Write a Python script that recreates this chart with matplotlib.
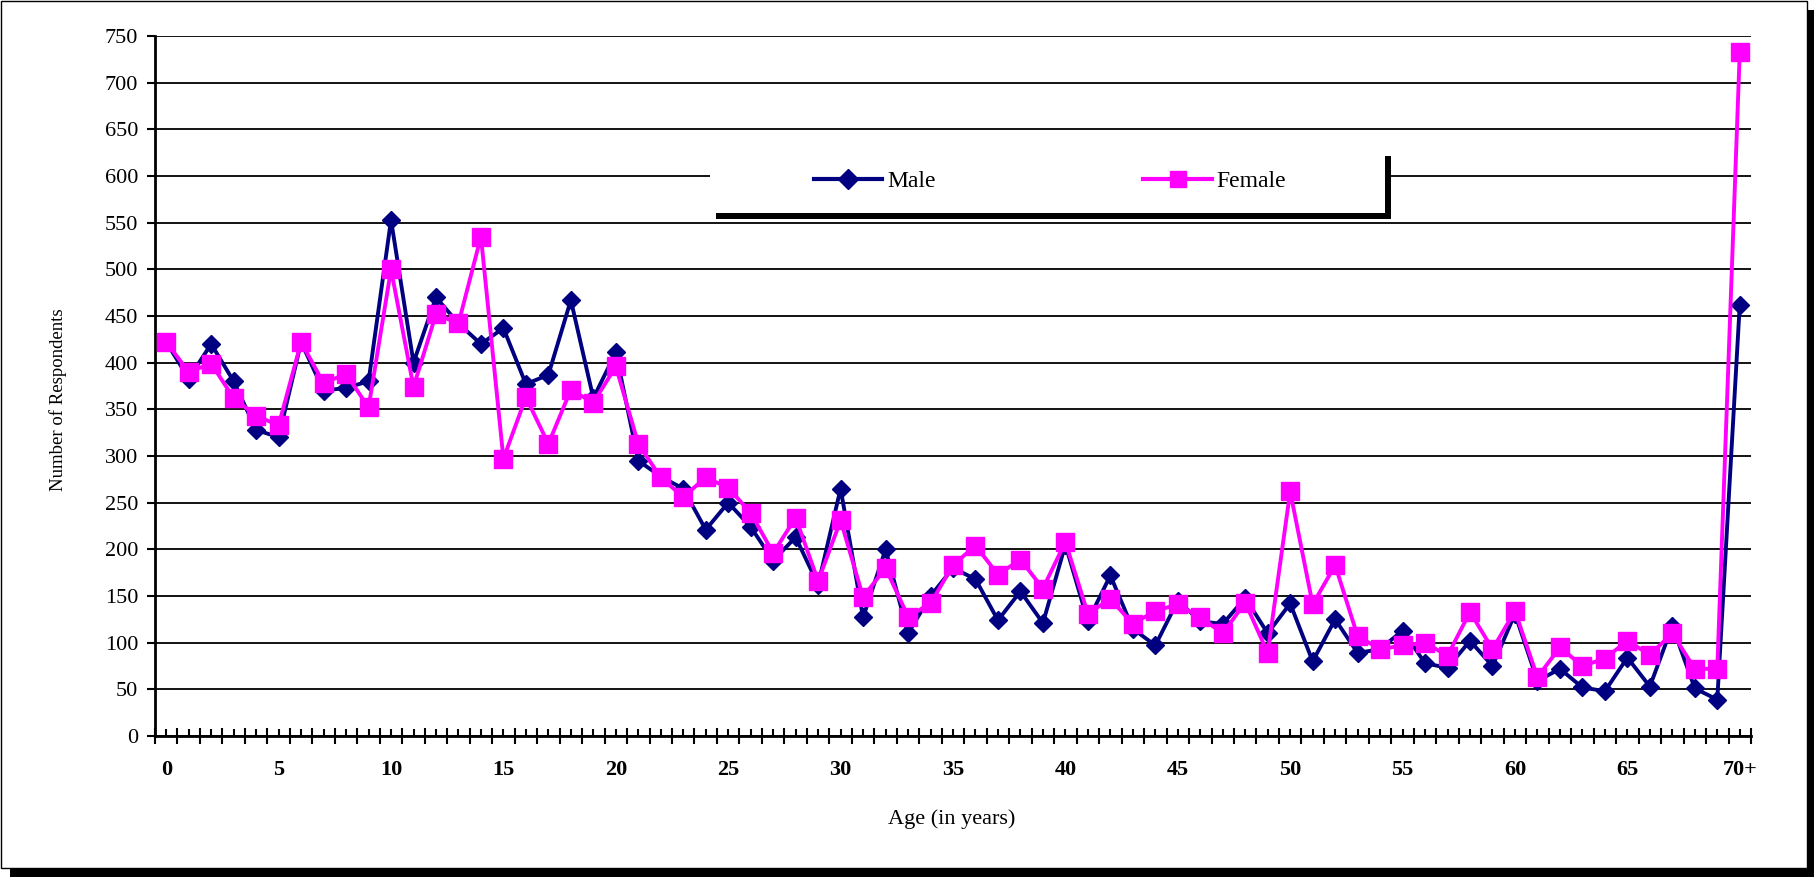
import matplotlib
matplotlib.use("Agg")
import matplotlib.pyplot as plt
from matplotlib.patches import Rectangle
from matplotlib.lines import Line2D

# ages 0..69 plus "70+"
ages = list(range(71))
age_labels = [str(a) if a % 5 == 0 else "" for a in range(70)] + ["70+"]

male = [422, 383, 420, 380, 328, 320, 422, 370, 373, 380,
        553, 400, 470, 442, 420, 437, 377, 387, 467, 362,
        411, 295, 278, 265, 221, 250, 224, 188, 213, 162,
        265, 127, 200, 110, 150, 180, 168, 124, 155, 121,
        205, 123, 172, 115, 97, 145, 123, 120, 148, 110,
        142, 80, 125, 89, 93, 113, 78, 73, 102, 75,
        131, 59, 72, 52, 48, 84, 53, 118, 51, 39,
        462]

female = [422, 390, 399, 362, 343, 333, 422, 378, 388, 352,
          500, 374, 452, 442, 535, 297, 363, 313, 371, 357,
          396, 313, 277, 256, 277, 266, 239, 196, 234, 166,
          231, 149, 180, 128, 142, 183, 204, 173, 189, 158,
          208, 131, 147, 120, 134, 141, 127, 110, 143, 89,
          262, 141, 183, 107, 93, 97, 100, 86, 133, 93,
          134, 63, 95, 75, 83, 102, 87, 110, 72, 72,
          733]

y_ticks = list(range(0, 751, 50))

W, H = 1814, 877
plt.rcParams["font.family"] = ["Liberation Serif", "DejaVu Serif"]

fig = plt.figure(figsize=(W / 100, H / 100), dpi=100)


def px(x0, y0, x1, y1):
    """pixel box (top-left origin) -> figure fraction rect"""
    return (x0 / W, 1 - y1 / H), (x1 - x0) / W, (y1 - y0) / H


# outer frame with drop shadow
xy, w, h = px(10, 10, 1830, 890)
fig.patches.append(Rectangle(xy, w, h, transform=fig.transFigure,
                             facecolor="black", edgecolor="none", zorder=-2))
xy, w, h = px(1, 1, 1807, 868)
fig.patches.append(Rectangle(xy, w, h, transform=fig.transFigure,
                             facecolor="white", edgecolor="black", lw=1, zorder=-1))

ax = fig.add_axes([155 / W, 1 - 736 / H, (1751 - 155) / W, 700 / H])
ax.set_facecolor("none")

ax.plot(ages, male, color="#000080", lw=2.8, marker="D", markersize=9.5,
        markeredgecolor="#000080", zorder=3)
ax.plot(ages, female, color="#FF00FF", lw=2.8, marker="s", markersize=12.5,
        markeredgecolor="#FF00FF", zorder=4)

ax.set_xlim(-0.5, 70.5)
ax.set_ylim(0, 750)
ax.set_yticks(y_ticks)
ax.set_yticklabels([str(v) for v in y_ticks], fontsize=16)
ax.yaxis.grid(True, color="black", lw=1.3)
ax.set_axisbelow(True)

ax.set_xticks(ages)
ax.set_xticklabels(age_labels, fontsize=16, fontweight="bold")
ax.set_xticks([a - 0.5 for a in ages] + [70.5], minor=True)
ax.tick_params(axis="x", which="major", direction="in", length=5, width=1.5, pad=17)
ax.tick_params(axis="x", which="minor", direction="inout", length=12, width=1.5)
ax.tick_params(axis="y", direction="out", length=6, width=1.5, pad=6)

for s in ["top", "right"]:
    ax.spines[s].set_visible(False)
ax.spines["left"].set_linewidth(2)
ax.spines["bottom"].set_linewidth(2)

ax.set_ylabel("Number of Respondents", fontsize=13.5)
ax.yaxis.set_label_coords(-0.055, 0.48)
ax.set_xlabel("Age (in years)", fontsize=16)
ax.xaxis.set_label_coords(0.499, -0.104)

# legend box: white with black shadow
xy, w, h = px(716, 156, 1391, 219)
ax.add_patch(Rectangle(xy, w, h, transform=fig.transFigure, facecolor="black",
                       edgecolor="none", clip_on=False, zorder=5))
xy, w, h = px(710, 150, 1385, 213)
ax.add_patch(Rectangle(xy, w, h, transform=fig.transFigure, facecolor="white",
                       edgecolor="none", clip_on=False, zorder=6))

handles = [
    Line2D([], [], color="#000080", lw=3, marker="D", markersize=10),
    Line2D([], [], color="#FF00FF", lw=3, marker="s", markersize=12),
]
leg = ax.legend(handles, ["Male", "Female"], ncol=2, loc="center",
                bbox_to_anchor=(1050 / W, 1 - 181 / H), bbox_transform=fig.transFigure,
                frameon=False, fontsize=17, handlelength=2.9, handletextpad=0.2,
                columnspacing=8.8)
leg.set_zorder(7)

fig.savefig("out.png", dpi=100)
